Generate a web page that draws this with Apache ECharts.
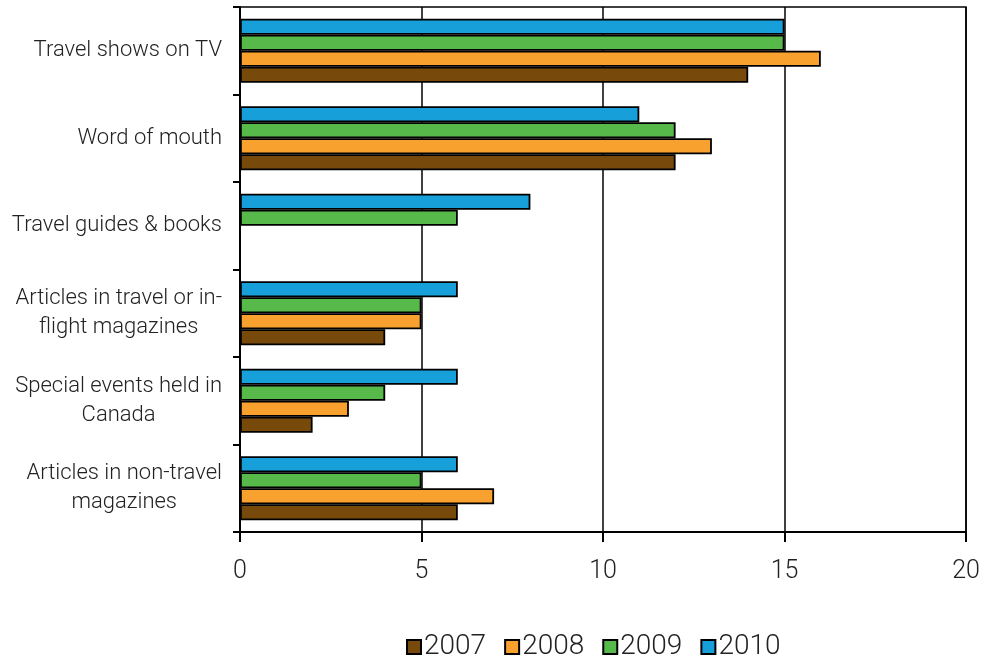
<!DOCTYPE html>
<html>
<head>
<meta charset="utf-8">
<script src="https://cdn.jsdelivr.net/npm/echarts@6/dist/echarts.min.js"></script>
<style>
html,body{margin:0;padding:0;background:#fff;}
#chart{width:985px;height:657px;}
</style>
</head>
<body>
<div id="chart"></div>
<script>
var categories = [
  'Travel shows on TV',
  'Word of mouth',
  'Travel guides & books',
  'Articles in travel or in-\nflight magazines',
  'Special events held in\nCanada',
  'Articles in non-travel\nmagazines'
];
var years = ['2007', '2008', '2009', '2010'];
var values2007 = [14, 12, null, 4, 2, 6];
var values2008 = [16, 13, null, 5, 3, 7];
var values2009 = [15, 12, 6, 5, 4, 5];
var values2010 = [15, 11, 8, 6, 6, 6];
var xTicks = [0, 5, 10, 15, 20];

var colors = ['#774a0b', '#f9a12f', '#56b94a', '#179fda'];
var seriesData = [values2007, values2008, values2009, values2010];
var FONT = 'Roboto';

var seriesList = years.map(function (y, i) {
  return {
    name: y, type: 'bar', data: seriesData[i],
    barGap: '0%', barCategoryGap: '27%',
    itemStyle: {color: colors[i], borderColor: '#000', borderWidth: 1.8}
  };
}).reverse();

var chart = echarts.init(document.getElementById('chart'));
chart.setOption({
  animation: false,
  backgroundColor: '#fff',
  textStyle: {fontFamily: FONT, fontWeight: 300},
  grid: {left: 240, right: 19, top: 7, bottom: 125, show: true, borderColor: '#000', borderWidth: 1.5, containLabel: false},
  legend: {
    data: years,
    left: 401, top: 628,
    icon: 'rect', itemWidth: 14, itemHeight: 14, itemGap: 18,
    itemStyle: {borderColor: '#000', borderWidth: 2},
    textStyle: {fontFamily: FONT, fontWeight: 300, fontSize: 28, color: '#222', padding: [0,0,0,-2]}
  },
  xAxis: {
    type: 'value', min: xTicks[0], max: xTicks[xTicks.length-1], interval: 5,
    axisLine: {show: true, lineStyle: {color: '#000', width: 2}},
    axisTick: {show: true, length: 10, lineStyle: {color: '#000', width: 2}},
    axisLabel: {fontFamily: FONT, fontWeight: 300, fontSize: 25, color: '#222', margin: 27},
    splitLine: {show: true, lineStyle: {color: '#000', width: 1.5}}
  },
  yAxis: {
    type: 'category', data: categories, inverse: true,
    axisLine: {show: true, lineStyle: {color: '#000', width: 2}},
    axisTick: {show: true, length: 7, lineStyle: {color: '#000', width: 2}},
    axisLabel: {
      fontFamily: FONT, fontWeight: 300, fontSize: 22, color: '#222', margin: 18, align: 'right',
      lineHeight: 29,
      formatter: function (v) { return v.split('\n').map(function (l) { return '{c|' + l + '}'; }).join('\n'); },
      rich: {c: {align: 'center', fontFamily: FONT, fontWeight: 300, fontSize: 22, color: '#222', lineHeight: 29}}
    }
  },
  series: seriesList
});
</script>
</body>
</html>
